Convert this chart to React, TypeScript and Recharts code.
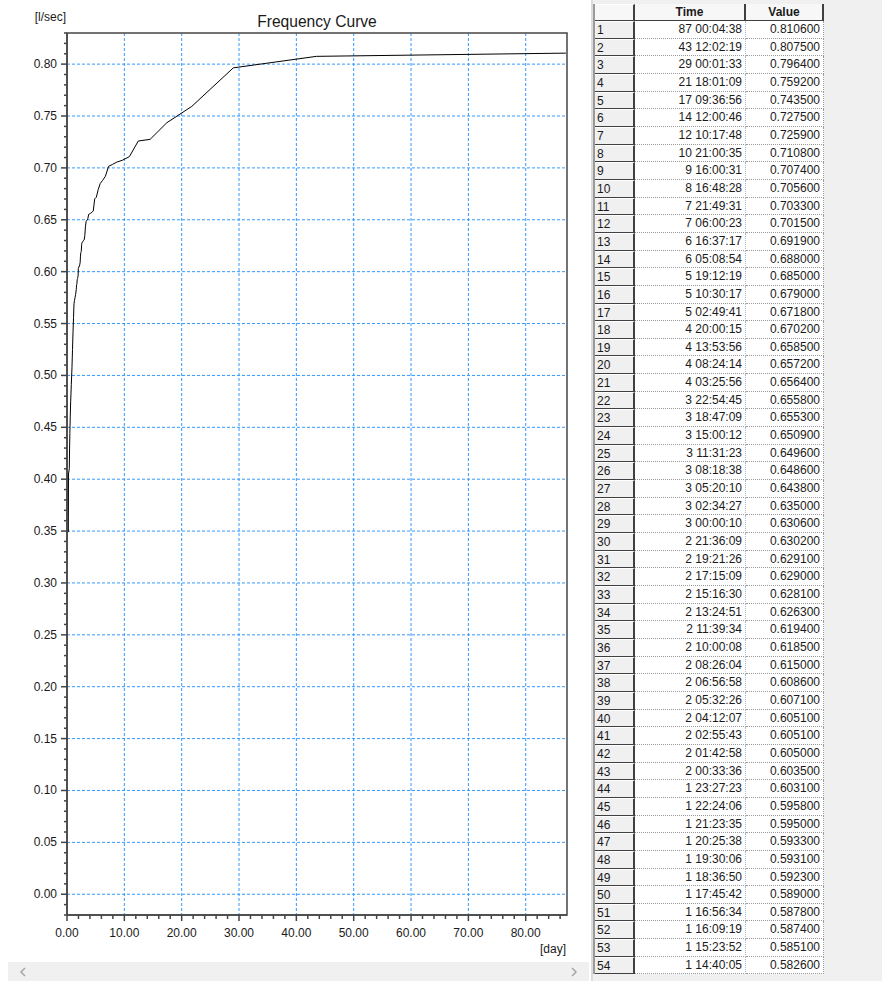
import { CartesianGrid, Line, LineChart, ReferenceArea, XAxis, YAxis } from "recharts";

// Table rows (ranked durations, longest first)
const tableTimes = [
  "87 00:04:38", "43 12:02:19", "29 00:01:33", "21 18:01:09", "17 09:36:56",
  "14 12:00:46", "12 10:17:48", "10 21:00:35", "9 16:00:31", "8 16:48:28",
  "7 21:49:31", "7 06:00:23", "6 16:37:17", "6 05:08:54", "5 19:12:19",
  "5 10:30:17", "5 02:49:41", "4 20:00:15", "4 13:53:56", "4 08:24:14",
  "4 03:25:56", "3 22:54:45", "3 18:47:09", "3 15:00:12", "3 11:31:23",
  "3 08:18:38", "3 05:20:10", "3 02:34:27", "3 00:00:10", "2 21:36:09",
  "2 19:21:26", "2 17:15:09", "2 15:16:30", "2 13:24:51", "2 11:39:34",
  "2 10:00:08", "2 08:26:04", "2 06:56:58", "2 05:32:26", "2 04:12:07",
  "2 02:55:43", "2 01:42:58", "2 00:33:36", "1 23:27:23", "1 22:24:06",
  "1 21:23:35", "1 20:25:38", "1 19:30:06", "1 18:36:50", "1 17:45:42",
  "1 16:56:34", "1 16:09:19", "1 15:23:52", "1 14:40:05",
];
const tableValues = [
  0.8106, 0.8075, 0.7964, 0.7592, 0.7435,
  0.7275, 0.7259, 0.7108, 0.7074, 0.7056,
  0.7033, 0.7015, 0.6919, 0.688, 0.685,
  0.679, 0.6718, 0.6702, 0.6585, 0.6572,
  0.6564, 0.6558, 0.6553, 0.6509, 0.6496,
  0.6486, 0.6438, 0.635, 0.6306, 0.6302,
  0.6291, 0.629, 0.6281, 0.6263, 0.6194,
  0.6185, 0.615, 0.6086, 0.6071, 0.6051,
  0.6051, 0.605, 0.6035, 0.6031, 0.5958,
  0.595, 0.5933, 0.5931, 0.5923, 0.589,
  0.5878, 0.5874, 0.5851, 0.5826,
];

const lowDays = [1.5, 1.4, 1.3, 1.22, 1.14, 1.05, 0.96, 0.87, 0.75, 0.64, 0.56, 0.5, 0.45, 0.4, 0.26, 0.23];
const lowValues = [0.578, 0.575, 0.572, 0.569, 0.556, 0.542, 0.525, 0.508, 0.491, 0.4745, 0.459, 0.444, 0.43, 0.41, 0.405, 0.349];

const xMajorTicks = [0, 10, 20, 30, 40, 50, 60, 70, 80];
const xMinorTicks = [
  0, 2, 4, 6, 8, 10, 12, 14, 16, 18, 20, 22, 24, 26, 28, 30, 32, 34, 36, 38, 40, 42,
  44, 46, 48, 50, 52, 54, 56, 58, 60, 62, 64, 66, 68, 70, 72, 74, 76, 78, 80, 82, 84, 86,
];
const yMajorTicks = [
  0, 0.05, 0.1, 0.15, 0.2, 0.25, 0.3, 0.35, 0.4, 0.45, 0.5, 0.55, 0.6, 0.65, 0.7, 0.75, 0.8,
];
const yMinorTicks = Array.from({ length: 86 }, (_, i) => (i - 2) / 100);

const X_DOMAIN: [number, number] = [0, 87.2];
const Y_DOMAIN: [number, number] = [-0.02, 0.83];

const FONT = 'Arial, "Liberation Sans", sans-serif';
const GRID_BLUE = "#3399ff";
const AXIS_GRAY = "#454545";

function toDays(s: string) {
  const [d, hms] = s.split(" ");
  const [h, m, sec] = hms.split(":").map(Number);
  return Number(d) + (h * 3600 + m * 60 + sec) / 86400;
}

const chartData = [
  ...tableTimes.map((t, i) => ({ x: toDays(t), y: tableValues[i] })),
  ...lowDays.map((d, i) => ({ x: d, y: lowValues[i] })),
].sort((a, b) => a.x - b.x);

function XTick(props: any) {
  const { x, y, payload } = props;
  const v = payload.value as number;
  const major = Math.round(v) % 10 === 0;
  return (
    <g>
      <line x1={x} y1={y} x2={x} y2={y + (major ? 6 : 4)} stroke={AXIS_GRAY} strokeWidth={1.5} />
      {major && (
        <text x={x} y={y + 18} textAnchor="middle" dominantBaseline="central" fontSize={12} fontFamily={FONT} fill="#1a1a1a">
          {v.toFixed(2)}
        </text>
      )}
    </g>
  );
}

function YTick(props: any) {
  const { x, y, payload } = props;
  const v = payload.value as number;
  const major = v > -0.005 && Math.round(v * 100) % 5 === 0;
  return (
    <g>
      <line x1={x - (major ? 6 : 3)} y1={y} x2={x} y2={y} stroke={AXIS_GRAY} strokeWidth={1.5} />
      {major && (
        <text x={x - 10} y={y} textAnchor="end" dominantBaseline="central" fontSize={12} fontFamily={FONT} fill="#1a1a1a">
          {v.toFixed(2)}
        </text>
      )}
    </g>
  );
}

function FrequencyChart() {
  return (
    <div style={{ position: "absolute", left: 0, top: 0, width: 590, height: 981 }}>
      <LineChart
        width={590}
        height={960}
        data={chartData}
        margin={{ top: 33, right: 23, bottom: 15, left: 0 }}
      >
        <CartesianGrid
          stroke={GRID_BLUE}
          strokeDasharray="3 2"
          horizontalValues={yMajorTicks}
          verticalValues={xMajorTicks.slice(1)}
        />
        <XAxis
          type="number"
          dataKey="x"
          domain={X_DOMAIN}
          allowDataOverflow
          ticks={xMinorTicks}
          interval={0}
          tickSize={0}
          tickMargin={0}
          tickLine={false}
          tick={XTick}
          height={30}
          axisLine={{ stroke: AXIS_GRAY, strokeWidth: 1.5 }}
        />
        <YAxis
          type="number"
          domain={Y_DOMAIN}
          allowDataOverflow
          ticks={yMinorTicks}
          interval={0}
          tickSize={0}
          tickMargin={0}
          tickLine={false}
          tick={YTick}
          width={67}
          axisLine={{ stroke: AXIS_GRAY, strokeWidth: 1.5 }}
        />
        <ReferenceArea
          x1={X_DOMAIN[0]}
          x2={X_DOMAIN[1]}
          y1={Y_DOMAIN[0]}
          y2={Y_DOMAIN[1]}
          fill="none"
          stroke={AXIS_GRAY}
          strokeWidth={1.5}
          ifOverflow="visible"
        />
        <Line
          type="linear"
          dataKey="y"
          stroke="#000"
          strokeWidth={1}
          dot={false}
          activeDot={false}
          isAnimationActive={false}
        />
      </LineChart>
      <div style={{ position: "absolute", left: 67, top: 13, width: 500, textAlign: "center", fontSize: 15.6, lineHeight: "18px", color: "#1a1a1a" }}>
        Frequency Curve
      </div>
      <div style={{ position: "absolute", left: 0, top: 10, width: 66, textAlign: "right", fontSize: 12, lineHeight: "14px", color: "#1a1a1a" }}>
        [l/sec]
      </div>
      <div style={{ position: "absolute", left: 500, top: 942, width: 66, textAlign: "right", fontSize: 12, lineHeight: "14px", color: "#1a1a1a" }}>
        [day]
      </div>
      {/* horizontal scrollbar */}
      <div style={{ position: "absolute", left: 8, top: 962, width: 581, height: 19, background: "#f0f0f0" }}>
        <svg width={581} height={19} style={{ display: "block" }}>
          <polyline points="17,6 13,10 17,14" fill="none" stroke="#a6a6a6" strokeWidth={1.5} />
          <polyline points="564,6 568,10 564,14" fill="none" stroke="#a6a6a6" strokeWidth={1.5} />
        </svg>
      </div>
    </div>
  );
}

const ROW_H = 17.67;
const numCell = {
  width: 40,
  boxSizing: "border-box" as const,
  background: "#f0f0f0",
  borderRight: "2px solid #404040",
  borderBottom: "1px solid #404040",
  borderTop: "1px solid #ffffff",
  paddingLeft: 2,
};

function DataTable() {
  return (
    <div style={{ position: "absolute", left: 591, top: 0, width: 291, height: 981, background: "#f0f0f0", borderLeft: "2px solid #dcdcdc", boxSizing: "border-box" }}>
      <div style={{ position: "absolute", left: 0, top: 4, borderLeft: "2px solid #9a9a9a", fontSize: 12, color: "#1a1a1a" }}>
        <div style={{ display: "flex", height: 17, lineHeight: "16px" }}>
          <div style={{ ...numCell, background: "#f7f7f7" }} />
          <div style={{ width: 111, boxSizing: "border-box", background: "#f7f7f7", borderRight: "2px solid #404040", borderBottom: "1px solid #404040", textAlign: "center", fontWeight: "bold" }}>
            Time
          </div>
          <div style={{ width: 78, boxSizing: "border-box", background: "#f7f7f7", borderRight: "2px solid #404040", borderBottom: "1px solid #404040", textAlign: "center", fontWeight: "bold" }}>
            Value
          </div>
        </div>
        {tableTimes.map((t, i) => (
          <div key={i} style={{ display: "flex", height: ROW_H, lineHeight: `${ROW_H - 1}px` }}>
            <div style={numCell}>{i + 1}</div>
            <div style={{ width: 111, boxSizing: "border-box", background: "#fff", borderRight: "1px dotted #a9b7cc", borderBottom: "1px dotted #9a9a9a", textAlign: "right", paddingRight: 3 }}>
              {t}
            </div>
            <div style={{ width: 78, boxSizing: "border-box", background: "#fff", borderRight: "1px dotted #9a9a9a", borderBottom: "1px dotted #9a9a9a", textAlign: "right", paddingRight: 3 }}>
              {tableValues[i].toFixed(6)}
            </div>
          </div>
        ))}
      </div>
    </div>
  );
}

export default function App() {
  return (
    <div style={{ position: "absolute", left: 0, top: 0, width: 882, height: 981, background: "#fff", fontFamily: FONT, overflow: "hidden" }}>
      <FrequencyChart />
      <DataTable />
    </div>
  );
}
